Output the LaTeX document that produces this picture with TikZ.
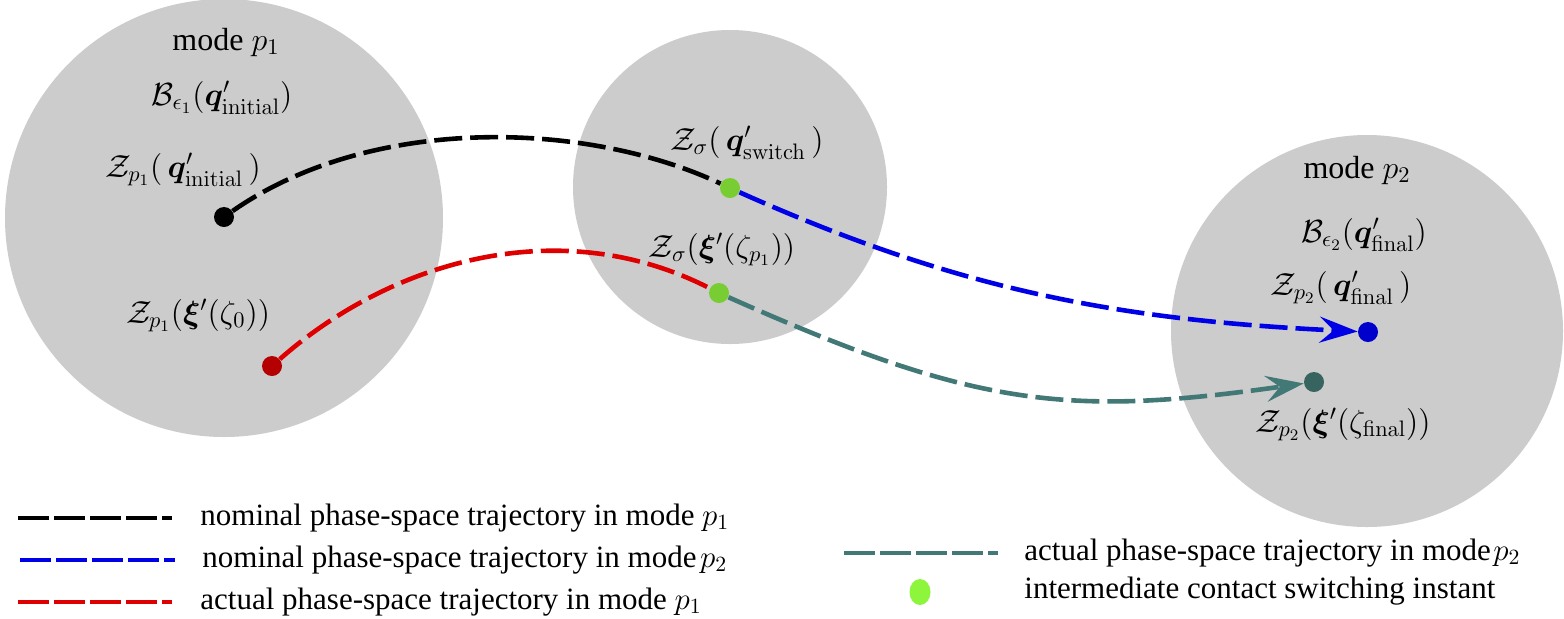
\RequirePackage{fix-cm}
\documentclass[tikz,border=0pt]{standalone}
\usepackage{amsmath,bm}
\usepackage[no-math]{fontspec}
\setmainfont{Liberation Serif}
\usetikzlibrary{arrows.meta,shapes.geometric}
\definecolor{circgray}{RGB}{204,204,204}
\definecolor{bluecurve}{RGB}{0,0,230}
\definecolor{bluedot}{RGB}{0,0,205}
\definecolor{redcurve}{RGB}{222,0,0}
\definecolor{reddot}{RGB}{180,0,0}
\definecolor{tealcurve}{RGB}{66,120,118}
\definecolor{tealdot}{RGB}{55,100,95}
\definecolor{greendot}{RGB}{120,205,50}
\definecolor{greenleg}{RGB}{140,245,60}
\begin{document}
\begin{tikzpicture}[x=0.5pt,y=-0.5pt,
  every node/.style={font=\fontsize{15.5}{18}\selectfont, inner sep=0pt},
  dot/.style={circle, minimum size=10pt, inner sep=0pt},
  traj/.style={line width=2.3pt, dash pattern=on 14pt off 4pt},
  legline/.style={line width=2pt, dash pattern=on 15.5pt off 2.5pt},
  tip/.style={-{Stealth[length=19pt,width=13pt,inset=7pt]}},
  lbl/.style={anchor=base, font=\fontsize{16}{19}\selectfont},
  legtxt/.style={anchor=base west}]
\clip (0,0) rectangle (1564,618);
\fill[white] (0,0) rectangle (1564,618);
% regions
\fill[circgray] (224,218) circle[radius=109.5pt];
\fill[circgray] (730,187) circle[radius=78.5pt];
\fill[circgray] (1367,331) circle[radius=98pt];
% labels
\node[lbl] (mode1) at (226,50) {mode $p_1$};
\node[lbl] (B1) at (222,105) {$\mathcal{B}_{\epsilon_1}(\bm{q}'_{\mathrm{initial}})$};
\node[lbl] (Z1) at (183,177) {$\mathcal{Z}_{p_1}(\,\bm{q}'_{\mathrm{initial}}\,)$};
\node[lbl] (Z1x) at (198,323) {$\mathcal{Z}_{p_1}(\bm{\xi}'(\zeta_0))$};
\node[lbl] (Zs) at (747,150) {$\mathcal{Z}_{\sigma}(\,\bm{q}'_{\mathrm{switch}}\,)$};
\node[lbl] (Zsx) at (722,257) {$\mathcal{Z}_{\sigma}(\bm{\xi}'(\zeta_{p_1}))$};
\node[lbl] (mode2) at (1357,178) {mode $p_2$};
\node[lbl] (B2) at (1364,242) {$\mathcal{B}_{\epsilon_2}(\bm{q}'_{\mathrm{final}})$};
\node[lbl] (Z2) at (1341,295) {$\mathcal{Z}_{p_2}(\,\bm{q}'_{\mathrm{final}}\,)$};
\node[lbl] (Z2x) at (1343,432) {$\mathcal{Z}_{p_2}(\bm{\xi}'(\zeta_{\mathrm{final}}))$};
% dots
\node[dot, fill=black] (n0) at (224,217) {};
\node[dot, fill=reddot] (r0) at (272,366) {};
\node[dot, fill=greendot] (g1) at (730,188) {};
\node[dot, fill=greendot] (g2) at (719,293) {};
\node[dot, fill=bluedot] (bf) at (1368,332) {};
\node[dot, fill=tealdot] (tf) at (1314,382) {};
% trajectories
\draw[traj, black] (n0) .. controls (370,115) and (585,120) .. (g1);
\draw[traj, bluecurve, tip] (g1) .. controls (958,290) and (1118,320) .. (bf);
\draw[traj, redcurve] (r0) .. controls (390,262) and (559,211) .. (g2);
\draw[traj, tealcurve, tip] (g2) .. controls (975,407) and (1066,417) .. (tf);
% legend
\coordinate (k1a) at (18,518); \coordinate (k1b) at (172,518);
\coordinate (k2a) at (20,560); \coordinate (k2b) at (175,560);
\coordinate (k3a) at (18,602); \coordinate (k3b) at (172,602);
\coordinate (k4a) at (844,553); \coordinate (k4b) at (998,553);
\draw[legline, black] (k1a) -- (k1b);
\draw[legline, bluecurve] (k2a) -- (k2b);
\draw[legline, redcurve] (k3a) -- (k3b);
\draw[legline, tealcurve] (k4a) -- (k4b);
\node[ellipse, fill=greenleg, minimum width=10.5pt, minimum height=13pt] (k5) at (920,592) {};
\node[legtxt] (t1) at (200,525) {nominal phase-space trajectory in mode $p_1$};
\node[legtxt] (t2) at (202,567) {nominal phase-space trajectory in mode\hspace{0.12em}$p_2$};
\node[legtxt] (t3) at (200,609) {actual phase-space trajectory in mode $p_1$};
\node[legtxt] (t4) at (1024,560) {actual phase-space trajectory in mode\hspace{0.08em}$p_2$};
\node[legtxt] (t5) at (1024,598) {intermediate contact switching instant};
\end{tikzpicture}
\end{document}
